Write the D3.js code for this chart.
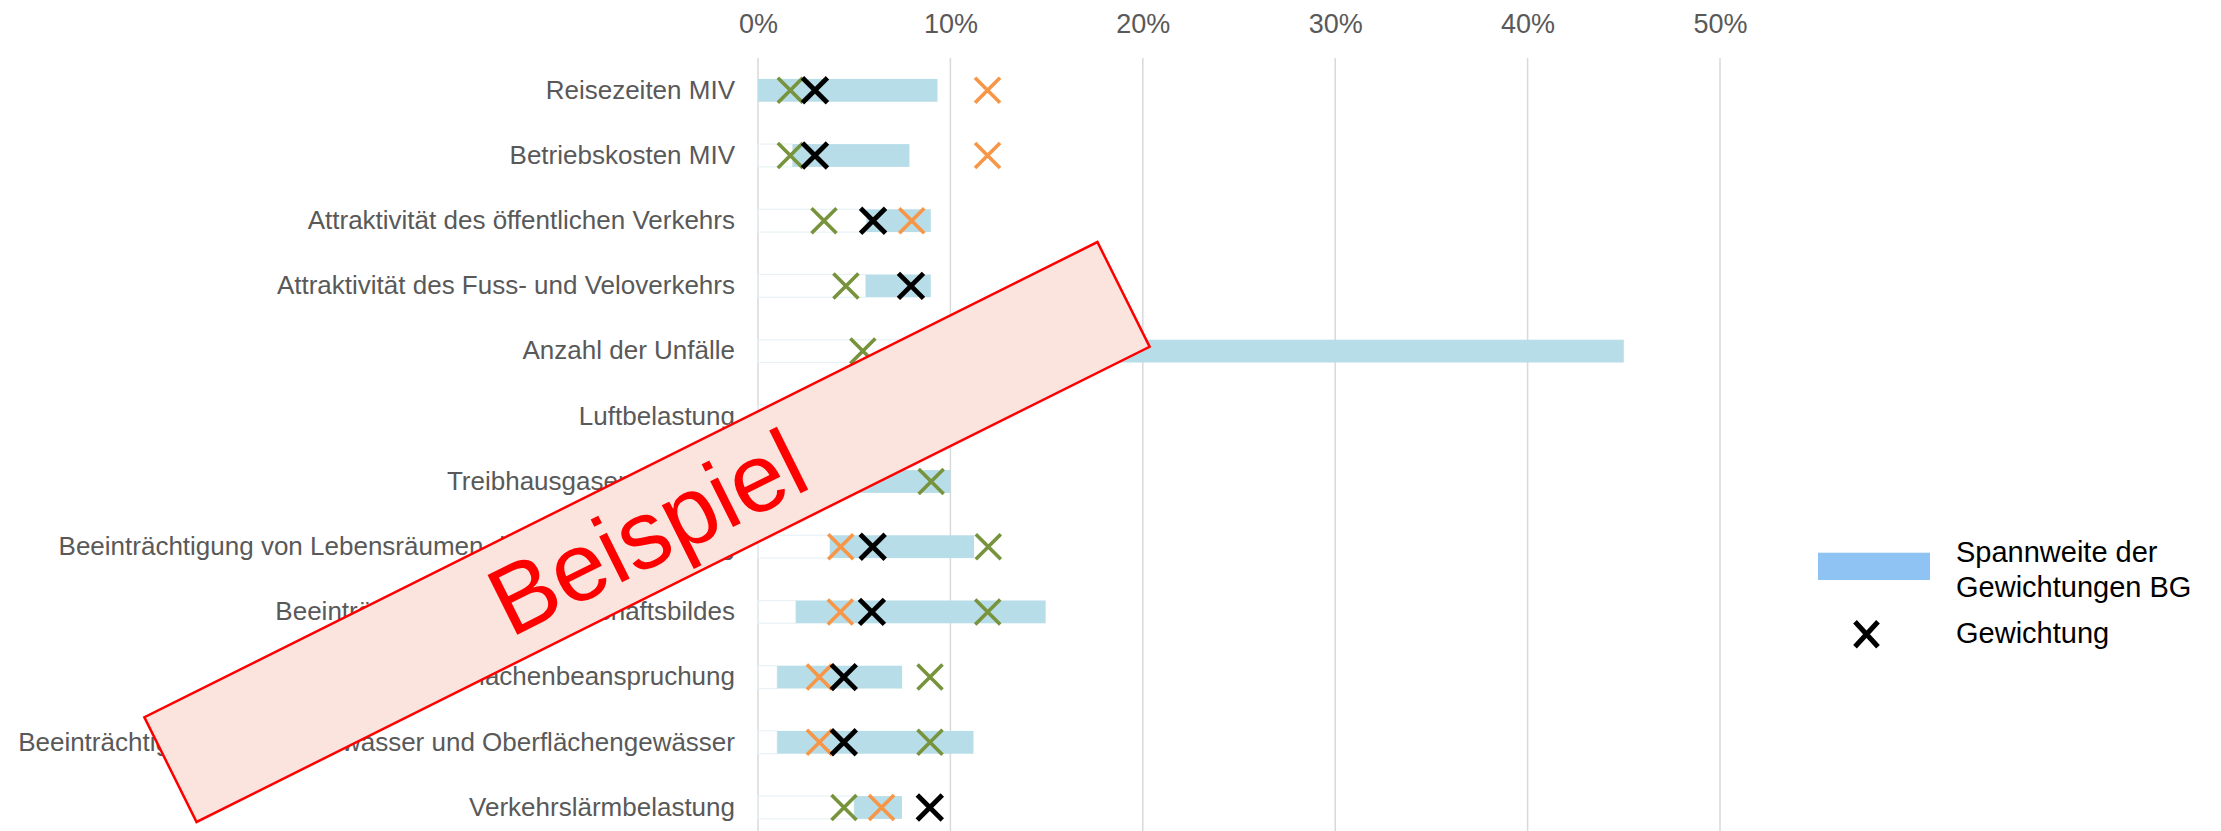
<!DOCTYPE html>
<html>
<head>
<meta charset="utf-8">
<script src="https://cdn.jsdelivr.net/npm/d3@7"></script>
<style>
  body { margin: 0; background: #fff; }
  text { font-family: "Liberation Sans", Arial, sans-serif; }
</style>
</head>
<body>
<script>
var categories = [
  "Reisezeiten MIV",
  "Betriebskosten MIV",
  "Attraktivität des öffentlichen Verkehrs",
  "Attraktivität des Fuss- und Veloverkehrs",
  "Anzahl der Unfälle",
  "Luftbelastung",
  "Treibhausgasemissionen",
  "Beeinträchtigung von Lebensräumen durch Zerschneidung",
  "Beeinträchtigung des Landschaftsbildes",
  "Flächenbeanspruchung",
  "Beeinträchtigung von Grundwasser und Oberflächengewässer",
  "Verkehrslärmbelastung"
];
// Spannweite der Gewichtungen BG (in %)
var spanLow  = [0, 1.8, 5.65, 5.6, 8, 3, 3, 3.74, 1.97, 1.0, 1.0, 5.0];
var spanHigh = [9.33, 7.87, 8.98, 8.98, 45.0, 9, 10, 11.23, 14.95, 7.49, 11.2, 7.48];
// Gewichtungen (in %)
var greenW  = [1.68, 1.68, 3.43, 4.57, 5.45, 7, 9.0, 11.97, 11.94, 8.94, 8.94, 4.47];
var orangeW = [11.93, 11.93, 7.99, 7.95, 10, 5, 2.5, 4.3, 4.28, 3.19, 3.19, 6.42];
var blackW  = [2.96, 2.96, 5.98, 7.95, 9, 5.5, 3.5, 5.96, 5.92, 4.46, 4.46, 8.93];
var ticks = [0, 10, 20, 30, 40, 50];

var W = 2221, H = 831;
var svg = d3.select("body").append("svg")
  .attr("width", W)
  .attr("height", H);

svg.append("rect").attr("width", W).attr("height", H).attr("fill", "#fff");

var x = d3.scaleLinear().domain([0, 50]).range([758, 1720]);
var y = d3.scaleBand()
  .domain(categories)
  .range([57.7, 57.7 + 12 * 65.2])
  .paddingInner(0.65)
  .paddingOuter(0.325);

// gridlines
svg.append("g").selectAll("line")
  .data(ticks)
  .enter().append("line")
  .attr("x1", function(d) { return x(d); })
  .attr("x2", function(d) { return x(d); })
  .attr("y1", 58)
  .attr("y2", H)
  .attr("stroke", "#d9d9d9")
  .attr("stroke-width", 1.5);

// top axis
var xAxis = svg.append("g")
  .attr("transform", "translate(0,33)")
  .call(d3.axisTop(x).tickValues(ticks).tickSize(0).tickPadding(0)
    .tickFormat(function(d) { return d + "%"; }));
xAxis.select(".domain").remove();
xAxis.selectAll("text")
  .attr("dy", "0em")
  .attr("fill", "#595959")
  .style("font-size", "27px")
  .style("font-family", "Liberation Sans, Arial, sans-serif");

// category labels
var yAxis = svg.append("g")
  .attr("transform", "translate(735,0)")
  .call(d3.axisLeft(y).tickSize(0).tickPadding(0));
yAxis.select(".domain").remove();
yAxis.selectAll("text")
  .attr("fill", "#595959")
  .style("font-size", "26px")
  .style("font-family", "Liberation Sans, Arial, sans-serif");

// invisible base segment (faint outline)
svg.append("g").selectAll("rect")
  .data(categories)
  .enter().append("rect")
  .attr("x", x(0))
  .attr("y", function(d) { return y(d); })
  .attr("width", function(d, i) { return x(spanLow[i]) - x(0); })
  .attr("height", y.bandwidth())
  .attr("fill", "none")
  .attr("stroke", "#e8f2f6")
  .attr("stroke-width", 1.2);

// span bars
svg.append("g").selectAll("rect")
  .data(categories)
  .enter().append("rect")
  .attr("x", function(d, i) { return x(spanLow[i]); })
  .attr("y", function(d) { return y(d); })
  .attr("width", function(d, i) { return x(spanHigh[i]) - x(spanLow[i]); })
  .attr("height", y.bandwidth())
  .attr("fill", "#b7dde8");

var xMark = "M-12.5,-12.5L12.5,12.5M-12.5,12.5L12.5,-12.5";

function markers(vals, color, sw) {
  svg.append("g").selectAll("path")
    .data(categories)
    .enter().append("path")
    .attr("d", xMark)
    .attr("transform", function(d, i) {
      return "translate(" + x(vals[i]) + "," + (y(d) + y.bandwidth() / 2) + ")";
    })
    .attr("fill", "none")
    .attr("stroke", color)
    .attr("stroke-width", sw);
}
markers(greenW, "#77933c", 3.6);
markers(orangeW, "#f79646", 3.6);
markers(blackW, "#000", 4.8);

// legend
var legend = svg.append("g");
legend.append("rect")
  .attr("x", 1818).attr("y", 552.7)
  .attr("width", 112).attr("height", 27.3)
  .attr("fill", "#8fc3f4");
legend.append("path")
  .attr("d", "M-11.5,-12.5L11.5,12.5M-11.5,12.5L11.5,-12.5")
  .attr("transform", "translate(1866.5,634.2)")
  .attr("fill", "none")
  .attr("stroke", "#000")
  .attr("stroke-width", 5);
var legendText = [["Spannweite der", 561.7], ["Gewichtungen BG", 596.7], ["Gewichtung", 643.3]];
legend.selectAll("text")
  .data(legendText)
  .enter().append("text")
  .attr("x", 1956)
  .attr("y", function(d) { return d[1]; })
  .attr("fill", "#000")
  .style("font-size", "29px")
  .text(function(d) { return d[0]; });

// "Beispiel" banner
var banner = svg.append("g")
  .attr("transform", "translate(647,532) rotate(-26.5)");
banner.append("rect")
  .attr("x", -532.5).attr("y", -58.5)
  .attr("width", 1065).attr("height", 117)
  .attr("fill", "#fce4de")
  .attr("stroke", "#ff0000")
  .attr("stroke-width", 2.5);
banner.append("text")
  .attr("text-anchor", "middle")
  .attr("dy", "0.35em")
  .attr("fill", "#ff0000")
  .style("font-size", "97px")
  .text("Beispiel");
</script>
</body>
</html>
